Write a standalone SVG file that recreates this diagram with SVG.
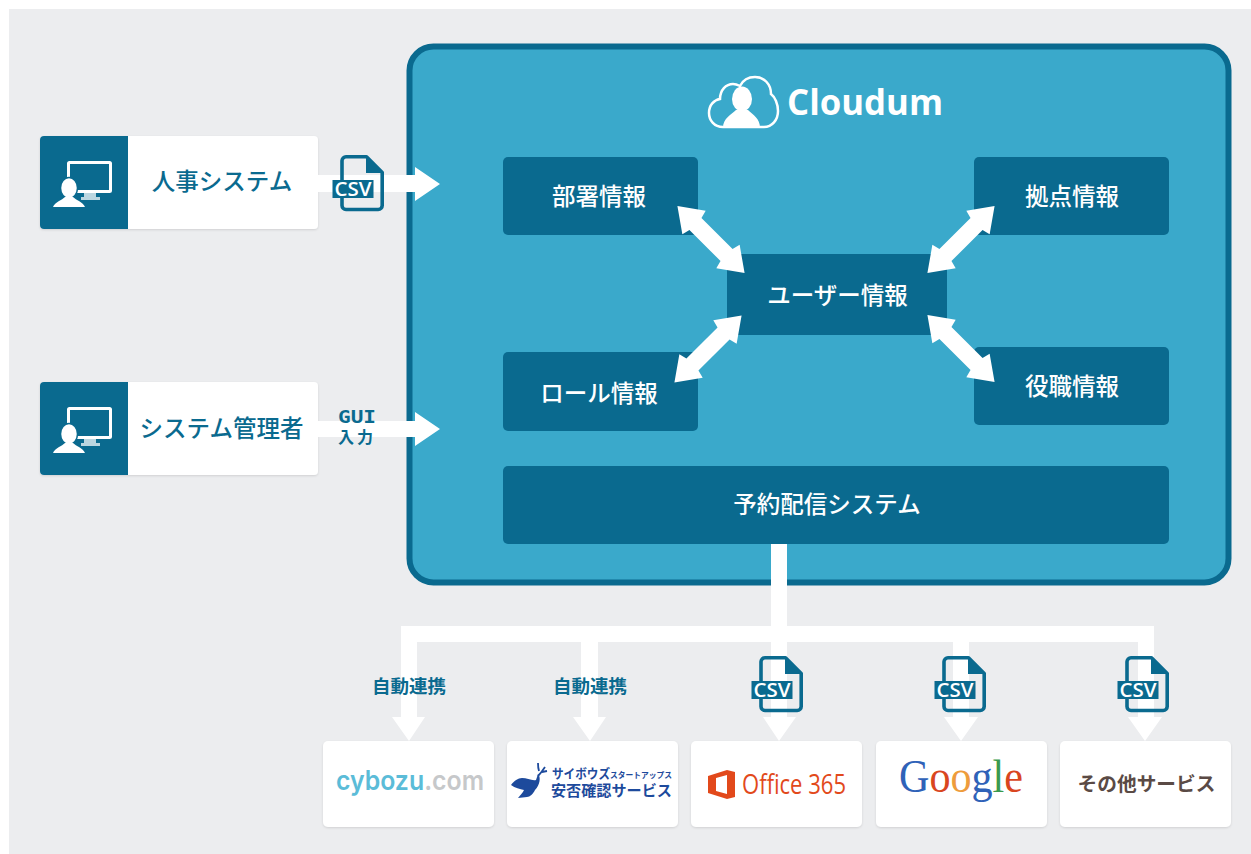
<svg xmlns="http://www.w3.org/2000/svg" width="1251" height="854" viewBox="0 0 1251 854">
<style>
text{font-family:"Noto Sans CJK JP","Noto Sans",sans-serif;text-anchor:middle}
.dark{fill:#0a6a8f}
.card{fill:#fff;filter:url(#sh)}
.lbl{font-size:23.500px;font-weight:500;fill:#0a6a8f}
.in{font-size:23.500px;font-weight:500;fill:#fff}
.conn{fill:#fff}
.small{font-size:18.500px;font-weight:700;fill:#0a6a8f}
</style>
<defs>
<filter id="sh" x="-5%" y="-5%" width="110%" height="112%"><feDropShadow dx="0" dy="1" stdDeviation="1.2" flood-color="#000" flood-opacity=".12"/></filter>
<g id="pc">
<rect x="68.500" y="26.500" width="42" height="29" fill="none" stroke="#fff" stroke-width="3" rx="1"/>
<rect x="84" y="57" width="12" height="5" fill="#bcd6e0"/>
<rect x="81" y="61" width="19" height="3" fill="#bcd6e0"/>
<ellipse cx="69" cy="52" rx="8.500" ry="10.500" fill="#fff" stroke="#0a6a8f" stroke-width="1.500"/>
<path d="M53 71C55 66 62 64 65 61L73 61C76 64 83 66 85 71Z" fill="#fff"/>
</g>
<g id="csv">
<path d="M6 1.800H26.500L42.200 17.500V50.500A4 4 0 0 1 38.200 54.500H6A4 4 0 0 1 2 50.500V5.800A4 4 0 0 1 6 1.800Z" fill="none" stroke="#0a6a8f" stroke-width="3.600" stroke-linejoin="round"/>
<path d="M26 1L43 18H26Z" fill="#0a6a8f"/>
<rect x="-7.500" y="25" width="41" height="18" fill="#0a6a8f"/>
<text x="13" y="41" style="font-family:'Open Sans',sans-serif;font-size:20px;font-weight:600;fill:#fff" textLength="37" lengthAdjust="spacingAndGlyphs">CSV</text>
</g>
<path id="dbl" d="M-47.500 0L-24 -16.500L-22 -8.500H22L24 -16.500L47.500 0L24 16.500L22 8.500H-22L-24 16.500Z" fill="#fff"/>
</defs>

<rect width="1251" height="854" fill="#fff"/>
<rect x="9" y="9" width="1242" height="845" fill="#ecedef"/>

<g id="cloudum">
<rect x="409.500" y="46.500" width="819" height="536" rx="24" fill="#3aa9cb" stroke="#0a6a8f" stroke-width="6"/>
<path d="M723 127C714 127 709 120 709 113C709 105 714 100 720 99C720 90 726 84 733 84C735 84 738 85 740 86C743 80 749 77 755 77C764 77 771 84 771 94C775 97 778 104 778 111C778 120 772 127 764 127Z" fill="none" stroke="#fff" stroke-width="2.500"/>
<ellipse cx="742" cy="99" rx="10" ry="12.500" fill="#fff"/>
<path d="M723 128C723 118 731 115 736 110H748C753 115 760 118 760 128Z" fill="#fff"/>
<text x="865" y="115" style="font-family:'Open Sans',sans-serif;font-size:36px;font-weight:700;fill:#fff" textLength="156" lengthAdjust="spacingAndGlyphs">Cloudum</text>
</g>

<g id="node-hr">
<rect class="card" x="40" y="136" width="278" height="93" rx="4"/>
<path class="dark" d="M44 136H128V229H44A4 4 0 0 1 40 225V140A4 4 0 0 1 44 136Z"/>
<use href="#pc" y="136"/>
<text class="lbl" x="222" y="190">人事システム</text>
</g>
<g id="node-admin">
<rect class="card" x="40" y="382" width="278" height="93" rx="4"/>
<path class="dark" d="M44 382H128V475H44A4 4 0 0 1 40 471V386A4 4 0 0 1 44 382Z"/>
<use href="#pc" y="382"/>
<text class="lbl" x="221.500" y="437">システム管理者</text>
</g>

<g id="node-busho"><rect class="dark" x="503" y="157" width="195" height="78" rx="5"/><text class="in" x="599" y="205">部署情報</text></g>
<g id="node-kyoten"><rect class="dark" x="974" y="157" width="195" height="78" rx="5"/><text class="in" x="1072" y="205">拠点情報</text></g>
<g id="node-user"><rect class="dark" x="727" y="254" width="220" height="81"/><text class="in" x="837.500" y="304">ユーザー情報</text></g>
<g id="node-role"><rect class="dark" x="503" y="352" width="195" height="79" rx="5"/><text class="in" x="599" y="402">ロール情報</text></g>
<g id="node-yakushoku"><rect class="dark" x="974" y="347" width="195" height="78" rx="5"/><text class="in" x="1072" y="395">役職情報</text></g>
<g id="node-yoyaku"><rect class="dark" x="503" y="466" width="666" height="78" rx="5"/><text class="in" x="827" y="513">予約配信システム</text></g>

<g id="svc-cybozu">
<rect class="card" x="323" y="741" width="171" height="86" rx="5"/>
<text x="410" y="790" style="font-family:Inter,sans-serif;font-size:27px;font-weight:600" textLength="148" lengthAdjust="spacingAndGlyphs"><tspan fill="#5bbcd8">cybozu</tspan><tspan fill="#c6c8ca">.com</tspan></text>
</g>
<g id="svc-anpi">
<rect class="card" x="507" y="741" width="171" height="86" rx="5"/>
<path d="M511 785C514 781 518 778 522 778C527 778 532 781 536 780L538 774C541 777 540 785 535 790C533 794 530 797 527 797L518 798C520 795 523 793 524 790C520 789 515 788 511 785Z" fill="#1d4a9c"/>
<path d="M538 776C541 773 543 770 545 767M539 771C538 768 538 766 538 763M542 772L547 771" fill="none" stroke="#1d4a9c" stroke-width="1.800"/>
<text x="581" y="778" style="font-size:13px;font-weight:700;fill:#1d4a9c" textLength="58" lengthAdjust="spacingAndGlyphs">サイボウズ</text>
<text x="641" y="778" style="font-size:8px;font-weight:700;fill:#1d4a9c" textLength="62" lengthAdjust="spacingAndGlyphs">スタートアップス</text>
<text x="611.500" y="796" style="font-size:15px;font-weight:700;fill:#1d4a9c" textLength="121" lengthAdjust="spacingAndGlyphs">安否確認サービス</text>
</g>
<g id="svc-office">
<rect class="card" x="691" y="741" width="171" height="86" rx="5"/>
<path fill-rule="evenodd" d="M708 776L727 770L735 772V797L727 799L708 793ZM716 778V791L727 794V775Z" fill="#e2491b"/>
<text x="794" y="794" style="font-family:'Open Sans',sans-serif;font-size:27px;font-weight:400;fill:#e2491b" textLength="104" lengthAdjust="spacingAndGlyphs">Office 365</text>
</g>
<g id="svc-google">
<rect class="card" x="876" y="741" width="171" height="86" rx="5"/>
<text x="961" y="792" style="font-family:'Liberation Serif',serif;font-size:46px" textLength="124" lengthAdjust="spacingAndGlyphs"><tspan fill="#2f62b8">G</tspan><tspan fill="#d9461f">o</tspan><tspan fill="#ee9c3c">o</tspan><tspan fill="#2f62b8">g</tspan><tspan fill="#3a9a4d">l</tspan><tspan fill="#d9461f">e</tspan></text>
</g>
<g id="svc-other">
<rect class="card" x="1060" y="741" width="171" height="86" rx="5"/>
<text x="1146.500" y="791" style="font-size:19.700px;font-weight:700;fill:#5a4a45">その他サービス</text>
</g>

<g id="connectors">
<g class="conn">
<path d="M318 175H415V167L440 184L415 201V192H318Z"/>
<path d="M318 421H415V412L440 429L415 446V437H318Z"/>
<path d="M771 544H787V626H1154V717H1162L1145 741L1128 717H1138V642H969V717H978L961 741L944 717H953V642H787V717H796L779 741L763 717H771V642H598V717H606L590 741L573 717H581V642H417V717H425L409 741L392 717H401V626H771Z"/>
<use href="#dbl" transform="translate(711 239.500) rotate(45)"/>
<use href="#dbl" transform="translate(961 239.500) rotate(-45)"/>
<use href="#dbl" transform="translate(708 349) rotate(-45)"/>
<use href="#dbl" transform="translate(961 348.500) rotate(45)"/>
</g>
<use href="#csv" x="340" y="155"/>
<use href="#csv" x="759" y="656"/>
<use href="#csv" x="942" y="656"/>
<use href="#csv" x="1125" y="656"/>
<text x="357" y="423" style="font-family:'DejaVu Sans Mono',monospace;font-size:17px;font-weight:700;fill:#0a6a8f" textLength="38" lengthAdjust="spacingAndGlyphs">GUI</text>
<text x="357" y="443" style="font-size:16px;font-weight:700;fill:#0a6a8f;letter-spacing:3px">入力</text>
<text x="409" y="693" class="small">自動連携</text>
<text x="590" y="693" class="small">自動連携</text>
</g>
</svg>
